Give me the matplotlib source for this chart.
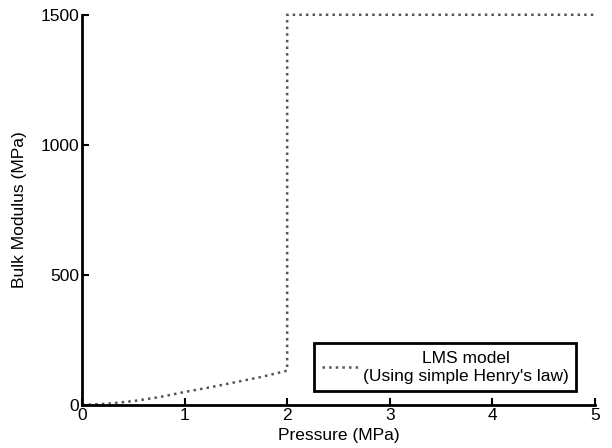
import matplotlib
matplotlib.use("Agg")
import matplotlib.pyplot as plt

plt.rcParams['font.family'] = ['Liberation Sans', 'DejaVu Sans']

# LMS model (simple Henry's law)
pressure = [0, 0.25, 0.5, 0.75, 1.0, 1.25, 1.5, 1.75, 2.0, 2.0, 5.0]
bulk = [0, 5, 15, 30, 50, 68, 88, 108, 132, 1500, 1500]

fig = plt.figure(figsize=(6.12, 4.48), dpi=100)
ax = fig.add_axes([0.134, 0.096, 0.838, 0.871])

ax.plot(pressure, bulk, color='#555555', linestyle=':', linewidth=1.8,
        clip_on=False, label="LMS model\n(Using simple Henry's law)")

ax.set_xlim(0, 5)
ax.set_ylim(0, 1500)
ax.set_xticks([0, 1, 2, 3, 4, 5])
ax.set_yticks([0, 500, 1000, 1500])
ax.spines['top'].set_visible(False)
ax.spines['right'].set_visible(False)
ax.spines['left'].set_linewidth(2)
ax.spines['bottom'].set_linewidth(2)
ax.tick_params(direction='in', length=5, width=1.5, labelsize=12.5, pad=2)
ax.set_xlabel('Pressure (MPa)', fontsize=12.5, labelpad=4)
ax.set_ylabel('Bulk Modulus (MPa)', fontsize=12.5, labelpad=10)

leg = ax.legend(loc='lower right', bbox_to_anchor=(0.964, 0.035), fontsize=12.5,
                fancybox=False, framealpha=1, edgecolor='black',
                handlelength=2.05, handletextpad=0.3, borderpad=0.45,
                borderaxespad=0)
leg.get_frame().set_linewidth(2)
for t in leg.get_texts():
    t.set_multialignment('center')

fig.savefig('out.png', dpi=100)
